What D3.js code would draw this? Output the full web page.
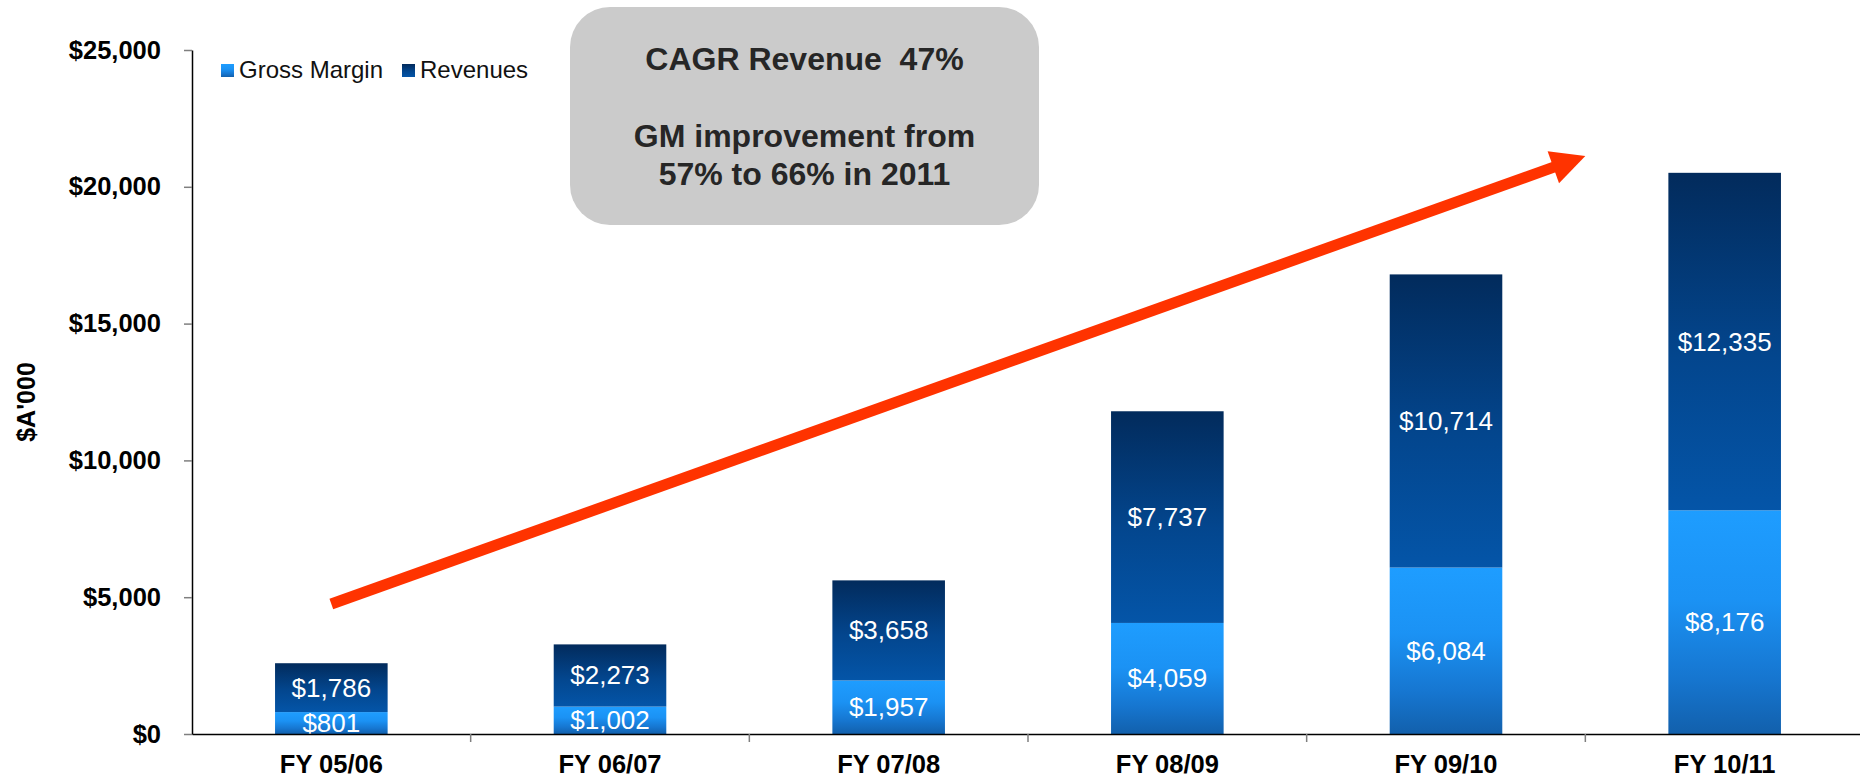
<!DOCTYPE html>
<html lang="en">
<head>
    <meta charset="UTF-8">
    <title>Revenue and Gross Margin</title>
    <style>
        body { margin: 0; background: #fff; }
        svg { display: block; font-family: "Liberation Sans", Arial, Helvetica, sans-serif; }
        .y-axis .domain, .x-axis .domain { stroke: #000; stroke-width: 1.5; }
        .y-axis .tick line { stroke: #7f7f7f; stroke-width: 1.5; }
        .y-axis text, .x-axis text { font-size: 25.5px; font-weight: bold; fill: #000; }
        .value-label { fill: #fff; font-size: 26px; }
        .legend text { font-size: 24px; fill: #111; }
        .callout text { font-size: 32px; font-weight: bold; fill: #262626; white-space: pre; }
    </style>
</head>
<body>
    <svg width="1860" height="780"></svg>
    <script src="https://d3js.org/d3.v7.min.js"></script>
    <script>
        const categories = ["FY 05/06", "FY 06/07", "FY 07/08", "FY 08/09", "FY 09/10", "FY 10/11"];
        const grossMargin = [801, 1002, 1957, 4059, 6084, 8176];
        const revenues = [1786, 2273, 3658, 7737, 10714, 12335];
        const yTicks = [0, 5000, 10000, 15000, 20000, 25000];
        const seriesNames = ["Gross Margin", "Revenues"];
        const calloutLines = ["CAGR Revenue  47%", "GM improvement from", "57% to 66% in 2011"];

        // trend arrow, in chart units: [category, value]
        const trendFrom = ["FY 05/06", 4750];
        const trendTo = ["FY 09/10", 21130]; // tip sits at right edge of this band

        const svg = d3.select("svg");
        const fmt = d => "$" + d3.format(",")(d);

        const x = d3.scaleBand()
            .domain(categories)
            .range([192, 1864])
            .paddingInner(0.596)
            .paddingOuter(0.298);
        const step = x.step();

        const y = d3.scaleLinear()
            .domain([0, 25000])
            .range([734, 50]);

        // gradients
        const defs = svg.append("defs");
        const gmGrad = defs.append("linearGradient")
            .attr("id", "gm-grad").attr("x1", 0).attr("y1", 0).attr("x2", 0).attr("y2", 1);
        gmGrad.append("stop").attr("offset", "0%").attr("stop-color", "#1e9dff");
        gmGrad.append("stop").attr("offset", "40%").attr("stop-color", "#1b92f4");
        gmGrad.append("stop").attr("offset", "75%").attr("stop-color", "#1676d0");
        gmGrad.append("stop").attr("offset", "100%").attr("stop-color", "#1260ac");

        const revGrad = defs.append("linearGradient")
            .attr("id", "rev-grad").attr("x1", 0).attr("y1", 0).attr("x2", 0).attr("y2", 1);
        revGrad.append("stop").attr("offset", "0%").attr("stop-color", "#022b5c");
        revGrad.append("stop").attr("offset", "55%").attr("stop-color", "#03468e");
        revGrad.append("stop").attr("offset", "100%").attr("stop-color", "#0455a8");

        const fills = ["url(#gm-grad)", "url(#rev-grad)"];

        // bars
        const rows = categories.map((c, i) => ({ c, gm: grossMargin[i], rev: revenues[i] }));

        const bars = svg.append("g").attr("class", "bars");
        bars.selectAll(".gm")
            .data(rows)
            .enter()
            .append("rect")
            .attr("class", "gm")
            .attr("x", d => x(d.c))
            .attr("width", x.bandwidth())
            .attr("y", d => y(d.gm))
            .attr("height", d => y(0) - y(d.gm))
            .attr("fill", fills[0]);

        bars.selectAll(".rev")
            .data(rows)
            .enter()
            .append("rect")
            .attr("class", "rev")
            .attr("x", d => x(d.c))
            .attr("width", x.bandwidth())
            .attr("y", d => y(d.gm + d.rev))
            .attr("height", d => y(d.gm) - y(d.gm + d.rev))
            .attr("fill", fills[1]);

        // value labels
        const labels = svg.append("g");
        labels.selectAll(".gm-label")
            .data(rows)
            .enter()
            .append("text")
            .attr("class", "value-label")
            .attr("x", d => x(d.c) + x.bandwidth() / 2)
            .attr("y", d => (y(0) + y(d.gm)) / 2)
            .attr("text-anchor", "middle")
            .attr("dominant-baseline", "central")
            .text(d => fmt(d.gm));

        labels.selectAll(".rev-label")
            .data(rows)
            .enter()
            .append("text")
            .attr("class", "value-label")
            .attr("x", d => x(d.c) + x.bandwidth() / 2)
            .attr("y", d => (y(d.gm) + y(d.gm + d.rev)) / 2)
            .attr("text-anchor", "middle")
            .attr("dominant-baseline", "central")
            .text(d => fmt(d.rev));

        // y axis
        svg.append("g")
            .attr("class", "y-axis")
            .attr("transform", "translate(192,0)")
            .call(d3.axisLeft(y).tickValues(yTicks).tickSize(8).tickSizeOuter(0).tickPadding(23).tickFormat(fmt));

        svg.append("text")
            .attr("transform", "translate(26," + (y(12500) + 10) + ") rotate(-90)")
            .attr("text-anchor", "middle")
            .attr("dominant-baseline", "central")
            .style("font-size", "25px")
            .style("font-weight", "bold")
            .text("$A'000");

        // x axis
        const xAxis = svg.append("g")
            .attr("class", "x-axis")
            .attr("transform", "translate(0," + y(0) + ")")
            .call(d3.axisBottom(x).tickSize(0).tickSizeOuter(0).tickPadding(21));

        xAxis.selectAll(".sep")
            .data(categories.slice(0, -1))
            .enter()
            .append("line")
            .attr("x1", d => x(d) + x.bandwidth() / 2 + step / 2)
            .attr("x2", d => x(d) + x.bandwidth() / 2 + step / 2)
            .attr("y1", 0)
            .attr("y2", 8)
            .attr("stroke", "#7f7f7f")
            .attr("stroke-width", 1.5);

        // legend
        const legend = svg.append("g").attr("class", "legend");
        const legendX = [221, 402];
        seriesNames.forEach((name, i) => {
            legend.append("rect")
                .attr("x", legendX[i]).attr("y", 64)
                .attr("width", 13).attr("height", 13)
                .attr("fill", fills[i]);
            legend.append("text")
                .attr("x", legendX[i] + 18).attr("y", 78)
                .text(name);
        });

        // callout box
        const callout = svg.append("g").attr("class", "callout");
        callout.append("rect")
            .attr("x", 570).attr("y", 7)
            .attr("width", 469).attr("height", 218)
            .attr("rx", 40).attr("ry", 40)
            .attr("fill", "#cbcbcb");
        const lineY = [70, 147, 185];
        calloutLines.forEach((t, i) => {
            callout.append("text")
                .attr("x", 804.5).attr("y", lineY[i])
                .attr("text-anchor", "middle")
                .text(t);
        });

        // trend arrow
        const p0 = [x(trendFrom[0]) + x.bandwidth() / 2, y(trendFrom[1])];
        const p1 = [x(trendTo[0]) + x.bandwidth() / 2 + step / 2, y(trendTo[1])];
        const len = Math.hypot(p1[0] - p0[0], p1[1] - p0[1]);
        const ux = (p1[0] - p0[0]) / len, uy = (p1[1] - p0[1]) / len;
        const headLen = 34, headHalf = 17;
        const base = [p1[0] - ux * headLen, p1[1] - uy * headLen];

        svg.append("line")
            .attr("x1", p0[0]).attr("y1", p0[1])
            .attr("x2", base[0] + ux * 2).attr("y2", base[1] + uy * 2)
            .attr("stroke", "#ff3300")
            .attr("stroke-width", 11);

        svg.append("path")
            .attr("d", d3.line()([
                p1,
                [base[0] - uy * headHalf, base[1] + ux * headHalf],
                [base[0] + uy * headHalf, base[1] - ux * headHalf]
            ]) + "Z")
            .attr("fill", "#ff3300");
    </script>
</body>
</html>
